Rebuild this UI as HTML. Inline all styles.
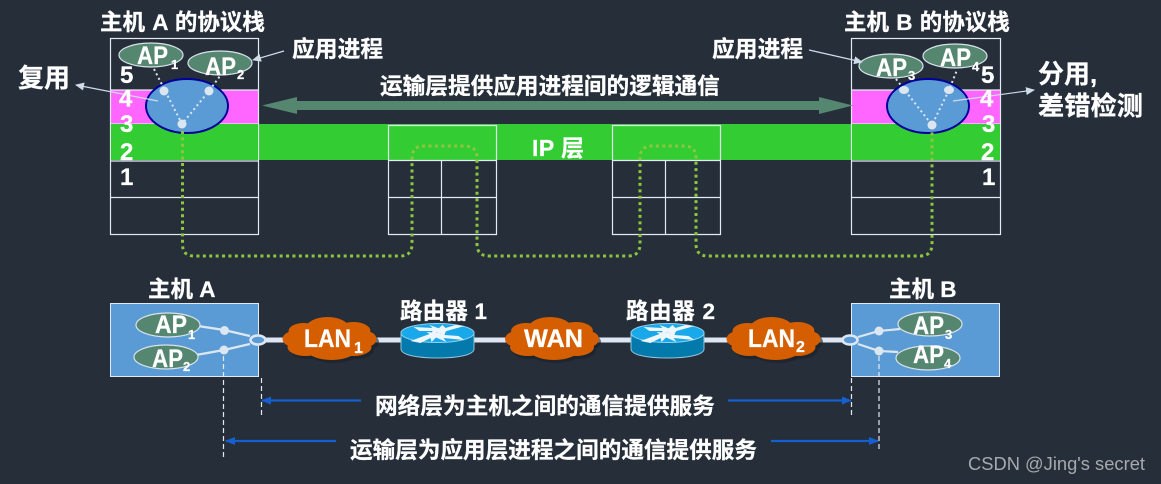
<!DOCTYPE html>
<html>
<head>
<meta charset="utf-8">
<style>
html,body{margin:0;padding:0;background:#252e39;width:1161px;height:484px;overflow:hidden}
svg{display:block}
text{font-family:"Liberation Sans","Noto Sans CJK SC",sans-serif;font-weight:700;fill:#fff;stroke:#fff;stroke-width:.25}
</style>
</head>
<body>
<svg width="1161" height="484" viewBox="0 0 1161 484" xmlns="http://www.w3.org/2000/svg">
<defs>
<marker id="ah" markerWidth="9" markerHeight="8" refX="8" refY="4" orient="auto" markerUnits="userSpaceOnUse"><path d="M0 0L9 4L0 8z" fill="#cfdcea"/></marker>
<marker id="bh" markerWidth="10" markerHeight="8" refX="9" refY="4" orient="auto" markerUnits="userSpaceOnUse"><path d="M0 0L10 4L0 8z" fill="#1560d0"/></marker>
<g id="cloud">
<ellipse cx="-35" cy="0" rx="12" ry="8"/><ellipse cx="-26" cy="-8" rx="15" ry="8"/><ellipse cx="-24" cy="8" rx="18" ry="9"/>
<rect x="-36" y="-10" width="72" height="20"/>
<ellipse cx="-2" cy="-10" rx="22" ry="12"/><ellipse cx="2" cy="9" rx="26" ry="12"/><ellipse cx="24" cy="-8" rx="17" ry="9"/>
<ellipse cx="24" cy="8" rx="18" ry="9"/><ellipse cx="36" cy="0" rx="11" ry="8"/>
</g>
<g id="router">
<path d="M-36.500 -8V9C-36.500 15 -20 18 0 18S36.500 15 36.500 9V-8z" fill="#0379ac" stroke="#8fc6de" stroke-width="1"/>
<ellipse cx="0" cy="-7" rx="36.500" ry="9.500" fill="#19a9ea" stroke="#8fd0ee" stroke-width="1"/>
<g fill="#eef6fb">
<path d="M-24 -13L-5 -12L-8 -15L6 -10L-6 -6L-5 -9L-18 -9z"/>
<path d="M27 -14L9 -9L6 -6L-3 -8L5 -15L8 -12L18 -15z"/>
<path d="M-27 1L-8 -6L-11 -8L3 -7L-6 2L-7 -2L-17 3z"/>
<path d="M27 0L6 -2L9 2L-5 -4L8 -8L7 -5L21 -4z"/>
</g>
</g>
</defs>
<rect width="1161" height="484" fill="#252e39"/>

<!-- green band + pink -->
<rect x="110" y="124" width="890" height="36" fill="#33cc33"/>
<rect x="111" y="90" width="148" height="34" fill="#ff66ff"/>
<rect x="852" y="90" width="148" height="34" fill="#ff66ff"/>

<!-- stacks -->
<g fill="none" stroke="#e3eaf2" stroke-width="1.200">
<rect x="110.500" y="38.500" width="148" height="196"/>
<path d="M111 90H258M111 124H258M111 161H258M111 197.500H258"/>
<rect x="851.500" y="38.500" width="149" height="196"/>
<path d="M852 90H1000M852 124H1000M852 161H1000M852 197.500H1000"/>
<path d="M388.500 125.500H496.500V234.500H388.500zM388.500 160.500H496.500M388.500 197.500H496.500M441.500 160.500V234.500"/>
<path d="M612.500 125.500H720.500V234.500H612.500zM612.500 160.500H720.500M612.500 197.500H720.500M665.500 160.500V234.500"/>
</g>
<rect x="111" y="124" width="147" height="36" fill="#33cc33"/>
<rect x="852" y="124" width="148" height="36" fill="#33cc33"/>

<!-- double arrow -->
<path d="M262 105.500L297 97V101H819V97L853 105.500L819 114V110H297V114z" fill="#548670"/>

<!-- AP bubbles top -->
<g fill="#548670" stroke="#d8e2ea" stroke-width="1.200">
<ellipse cx="151" cy="55" rx="32" ry="12"/>
<ellipse cx="220" cy="63" rx="32" ry="12"/>
<ellipse cx="891" cy="66" rx="32" ry="12"/>
<ellipse cx="955" cy="56" rx="32" ry="12"/>
</g>

<!-- Mux ellipses -->
<ellipse cx="187" cy="106" rx="41" ry="27" fill="#5b9bd5" stroke="#000099" stroke-width="2"/>
<ellipse cx="928" cy="106" rx="41" ry="27" fill="#5b9bd5" stroke="#000099" stroke-width="2"/>
<g stroke="#dbe6f1" stroke-width="2" stroke-dasharray="2 3" fill="none">
<path d="M154 69L182 124L209 91L220 76"/>
<path d="M896 79L932 125L949 90L957 70"/>
</g>
<g fill="#dbe6f1">
<circle cx="164" cy="91" r="4.500"/><circle cx="209" cy="91" r="4.500"/><circle cx="182" cy="124" r="4.500"/>
<ellipse cx="904" cy="90" rx="5" ry="4"/><ellipse cx="949" cy="90" rx="5" ry="4"/><circle cx="932" cy="125" r="4.500"/>
</g>

<!-- green dotted -->
<path d="M182.500 131V244Q182.500 256 194 256H400Q412 256 412 244V158Q412 146 424 146H465Q477 146 477 158V244Q477 256 489 256H628Q640 256 640 244V158Q640 146 652 146H684Q696 146 696 158V244Q696 256 708 256H920Q932 256 932 244V131" fill="none" stroke="#8cc63f" stroke-width="3" stroke-dasharray="3 3.400"/>

<!-- leader lines -->
<g stroke="#cfdcea" stroke-width="1.200" fill="none" marker-end="url(#ah)">
<line x1="284" y1="51" x2="253" y2="60"/>
<line x1="158" y1="101" x2="76" y2="85"/>
<line x1="809" y1="50" x2="862" y2="62"/>
<line x1="953" y1="101" x2="1034" y2="90"/>
</g>

<!-- Top text -->
<text x="100" y="30" font-size="22.500" word-spacing="1">主机 A 的协议栈</text>
<text x="844" y="30" font-size="22.500" word-spacing="1">主机 B 的协议栈</text>
<text x="292" y="57" font-size="22.800">应用进程</text>
<text x="712" y="57" font-size="22.800">应用进程</text>
<text x="18" y="87" font-size="26">复用</text>
<text x="1038" y="83" font-size="26">分用,</text>
<text x="1038" y="115" font-size="26.250">差错检测</text>
<text x="380" y="94" font-size="22.670">运输层提供应用进程间的逻辑通信</text>
<text x="532" y="156" font-size="23" textLength="52">IP 层</text>

<text x="137" y="64" font-size="25" textLength="31" lengthAdjust="spacingAndGlyphs">AP</text><text x="171" y="69" font-size="13">1</text>
<text x="205" y="75" font-size="25" textLength="31" lengthAdjust="spacingAndGlyphs">AP</text><text x="237" y="79" font-size="13">2</text>
<text x="876" y="76" font-size="25" textLength="31" lengthAdjust="spacingAndGlyphs">AP</text><text x="908" y="80" font-size="13">3</text>
<text x="940" y="66" font-size="25" textLength="31" lengthAdjust="spacingAndGlyphs">AP</text><text x="972" y="71" font-size="13">4</text>

<g font-size="24">
<text x="120" y="83">5</text><text x="119" y="106.500">4</text><text x="120" y="132">3</text><text x="120" y="160">2</text><text x="120" y="185">1</text>
<text x="981" y="83">5</text><text x="980" y="106.500">4</text><text x="982" y="132">3</text><text x="981" y="160">2</text><text x="982" y="185">1</text>
</g>

<!-- Bottom network -->
<rect x="110.500" y="303.500" width="148" height="73" fill="#5b9bd5" stroke="#e3eaf2" stroke-width="1"/>
<rect x="851.500" y="303.500" width="148" height="73" fill="#5b9bd5" stroke="#e3eaf2" stroke-width="1"/>
<path d="M258 340H851" stroke="#dde7f2" stroke-width="5" fill="none"/>

<g fill="none" stroke="#dde7f2" stroke-width="2.200">
<path d="M198 326L224 330L250 336"/>
<path d="M196 355L224 350L250 344"/>
<path d="M900 329L879 331L858 337"/>
<path d="M898 352L879 351L858 344"/>
</g>
<g fill="#dde7f2"><circle cx="224.500" cy="330.500" r="4.500"/><circle cx="224" cy="350" r="4.500"/><circle cx="879" cy="331" r="4.500"/><circle cx="879" cy="351" r="4.500"/></g>
<ellipse cx="258" cy="340" rx="7.500" ry="4.500" fill="#5b9bd5" stroke="#dde7f2" stroke-width="2.600"/>
<ellipse cx="850" cy="340" rx="7.500" ry="4.500" fill="#5b9bd5" stroke="#dde7f2" stroke-width="2.600"/>

<g fill="#548670" stroke="#d8e2ea" stroke-width="1.200">
<ellipse cx="168" cy="325" rx="32" ry="12"/>
<ellipse cx="166" cy="357" rx="32" ry="12"/>
<ellipse cx="930" cy="324" rx="32" ry="12"/>
<ellipse cx="928" cy="358" rx="32" ry="12"/>
</g>
<text x="155" y="333" font-size="25" textLength="32" lengthAdjust="spacingAndGlyphs">AP</text><text x="188" y="339" font-size="13">1</text>
<text x="152" y="367" font-size="25" textLength="31" lengthAdjust="spacingAndGlyphs">AP</text><text x="183" y="371" font-size="13">2</text>
<text x="913" y="334" font-size="25" textLength="31" lengthAdjust="spacingAndGlyphs">AP</text><text x="945" y="339" font-size="13">3</text>
<text x="913" y="363" font-size="25" textLength="31" lengthAdjust="spacingAndGlyphs">AP</text><text x="944" y="368" font-size="13">4</text>

<use href="#cloud" x="332" y="342" fill="#1a2029" opacity="0.6"/>
<use href="#cloud" x="554" y="342" fill="#1a2029" opacity="0.6"/>
<use href="#cloud" x="776" y="342" fill="#1a2029" opacity="0.6"/>
<use href="#cloud" x="329.500" y="339" fill="#d55e00"/>
<use href="#cloud" x="552" y="339" fill="#d55e00"/>
<use href="#cloud" x="773.500" y="339" fill="#d55e00"/>
<text x="304" y="347" font-size="25" textLength="47" lengthAdjust="spacingAndGlyphs">LAN</text><text x="354" y="353" font-size="16">1</text>
<text x="524" y="347" font-size="25" textLength="59" lengthAdjust="spacingAndGlyphs">WAN</text>
<text x="748" y="347" font-size="25" textLength="47" lengthAdjust="spacingAndGlyphs">LAN</text><text x="796" y="352" font-size="16">2</text>

<use href="#router" x="437.500" y="340"/>
<use href="#router" x="667.500" y="340"/>

<text x="148" y="297" font-size="22.500">主机 A</text>
<text x="889" y="297" font-size="22.500">主机 B</text>
<text x="400" y="319" font-size="22.500" textLength="87">路由器 1</text>
<text x="626" y="319" font-size="22.500" textLength="89">路由器 2</text>

<!-- dashed -->
<g stroke="#e3eaf2" stroke-width="1.200" stroke-dasharray="5 3" fill="none">
<path d="M261.500 378V417M223.500 356V458M851.500 378V417M879 356V450"/>
</g>
<g stroke="#1560d0" stroke-width="2.200" fill="none" marker-end="url(#bh)">
<line x1="361" y1="400.500" x2="262" y2="400.500"/>
<line x1="336" y1="441" x2="226" y2="441"/>
<line x1="728" y1="400.500" x2="851" y2="400.500"/>
<line x1="771" y1="441" x2="878" y2="441"/>
</g>
<text x="375" y="414" font-size="22.670">网络层为主机之间的通信提供服务</text>
<text x="350" y="458" font-size="22.610">运输层为应用层进程之间的通信提供服务</text>

<text x="968" y="470" font-size="18" textLength="177" lengthAdjust="spacingAndGlyphs" style="font-weight:400;fill:#a7aaad;stroke:none">CSDN @Jing's secret</text>
</svg>
</body>
</html>
